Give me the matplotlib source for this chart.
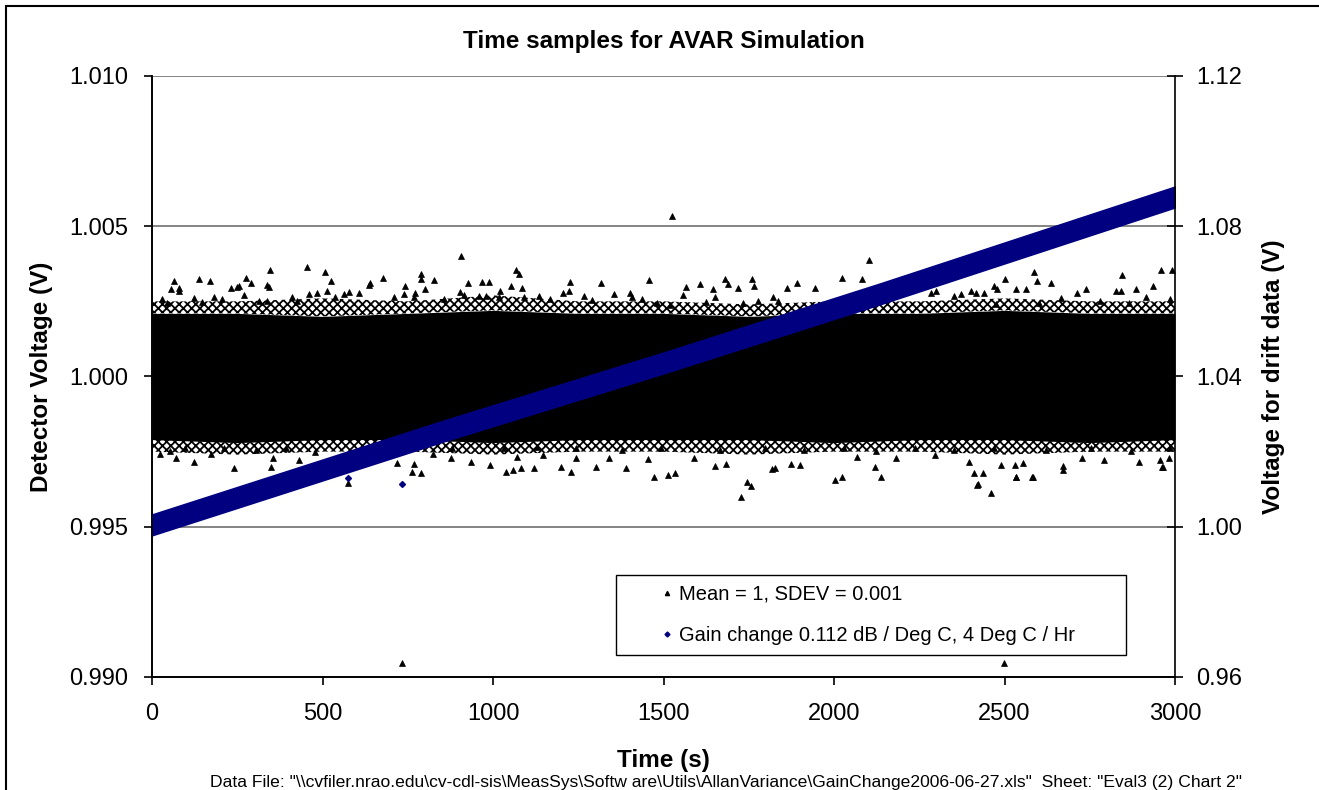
import numpy as np
import matplotlib.pyplot as plt
from matplotlib.lines import Line2D
from matplotlib.patches import Rectangle

plt.rcParams['font.family'] = ['Liberation Sans', 'DejaVu Sans']
plt.rcParams['hatch.linewidth'] = 1.3

# Huellkurven der dichten Rauschwolke (linke Achse, V)
t_env = [0, 250, 500, 750, 1000, 1250, 1500, 1750, 2000, 2250, 2500, 2750, 3000]
core_hi = [1.0021, 1.0021, 1.0020, 1.0021, 1.0022, 1.0021, 1.0021, 1.0020, 1.0021, 1.0021, 1.0022, 1.0021, 1.0021]
core_lo = [0.9979, 0.9978, 0.9979, 0.9979, 0.9978, 0.9979, 0.9979, 0.9979, 0.9978, 0.9979, 0.9979, 0.9978, 0.9979]
dense_hi = [1.0025, 1.0025, 1.0026, 1.0025, 1.0027, 1.0025, 1.0025, 1.0024, 1.0025, 1.0025, 1.0026, 1.0025, 1.0025]
dense_lo = [0.9975, 0.9974, 0.9975, 0.9975, 0.9974, 0.9975, 0.9975, 0.9974, 0.9975, 0.9975, 0.9974, 0.9975, 0.9975]

# einzeln erkennbare Punkte oberhalb des dichten Bands
top_t = [907, 347, 455, 507, 137, 169, 65, 277, 291, 337, 342, 231, 250, 256, 55, 80, 80, 526, 677, 637,
         640, 790, 790, 828, 743, 800, 772, 1066, 1075, 1053, 927, 968, 987, 1086, 1227, 1317, 1457, 1222, 1205, 1266,
         1354, 1402, 1408, 1021, 1017, 958, 978, 902, 916, 606, 562, 577, 513, 459, 484, 29, 44, 122, 181, 205,
         147, 269, 313, 336, 411, 425, 537, 709, 740, 767, 855, 1092, 1134, 1168, 1290, 1437, 1481,
         2102, 1567, 1608, 1679, 1689, 1760, 1764, 1718, 1645, 1650, 1557, 1862, 1892, 1943, 2023, 2083, 2587, 2595, 2502, 2637,
         2846, 2960, 2991, 2935, 2885, 2828, 2843, 2738, 2714, 2665, 2562, 2535, 2469, 2479, 2439, 2417, 2403, 2373, 2300, 2283,
         2351, 2914, 2779, 2865, 2984, 2601, 2476, 1821, 1837, 1776, 1733, 1626, 1518]
top_v = [1.00401, 1.00354, 1.00364, 1.00349, 1.00323, 1.00317, 1.00317, 1.00328, 1.00310, 1.00304,
         1.00299, 1.00296, 1.00298, 1.00301, 1.00290, 1.00293, 1.00284, 1.00317, 1.00327, 1.00304,
         1.00312, 1.00342, 1.00323, 1.00322, 1.00301, 1.00290, 1.00279, 1.00354, 1.00342, 1.00300,
         1.00311, 1.00316, 1.00316, 1.00296, 1.00316, 1.00311, 1.00322, 1.00284, 1.00279, 1.00269,
         1.00274, 1.00279, 1.00266, 1.00284, 1.00264, 1.00269, 1.00269, 1.00282, 1.00271, 1.00279,
         1.00274, 1.00282, 1.00284, 1.00274, 1.00279, 1.00257, 1.00245, 1.00262, 1.00263, 1.00257,
         1.00249, 1.00270, 1.00252, 1.00252, 1.00263, 1.00252, 1.00263, 1.00263, 1.00274, 1.00264,
         1.00257, 1.00263, 1.00268, 1.00257, 1.00254, 1.00257, 1.00246,
         1.00388, 1.00299, 1.00307, 1.00323, 1.00307, 1.00323, 1.00300, 1.00296, 1.00291, 1.00263,
         1.00271, 1.00296, 1.00312, 1.00296, 1.00327, 1.00323, 1.00349, 1.00318, 1.00323, 1.00312,
         1.00338, 1.00354, 1.00354, 1.00301, 1.00291, 1.00284, 1.00284, 1.00291, 1.00279, 1.00262,
         1.00290, 1.00290, 1.00300, 1.00290, 1.00279, 1.00279, 1.00284, 1.00274, 1.00284, 1.00279,
         1.00269, 1.00265, 1.00252, 1.00246, 1.00257, 1.00246, 1.00242, 1.00263, 1.00252, 1.00252,
         1.00244, 1.00249, 1.00238]

# einzeln erkennbare Punkte unterhalb des dichten Bands
bot_t = [1726, 2459, 2420, 1745, 1756, 2003, 2022, 2139, 2120, 2411, 2436, 2535, 2583, 2673, 2966, 2981, 1473, 1512, 1534, 1389,
         1303, 1230, 1200, 1119, 1081, 1039, 1058, 991, 936, 790, 761, 769, 719, 574, 239, 350, 124, 71, 23, 1651,
         1684, 1827, 1818, 1875, 1900, 2531, 2491, 2554, 2397, 2893, 2956, 876, 1244, 1339, 1454, 1588, 2066, 2181, 2296, 2726,
         2793, 1148, 1071, 823, 354, 430, 172, 54, 96, 210, 306, 392, 478, 1244, 1378, 1492, 1665, 1798, 1913, 2028,
         2124, 2238, 2353, 2468, 2621, 2755, 2870, 2985, 880, 1033, 1129, 2422, 2534, 2581, 2672, 2962]
bot_v = [0.99598, 0.99612, 0.99639, 0.99650, 0.99634, 0.99656, 0.99665, 0.99665, 0.99699, 0.99678,
         0.99678, 0.99667, 0.99667, 0.99703, 0.99699, 0.99730, 0.99667, 0.99672, 0.99679, 0.99694,
         0.99699, 0.99683, 0.99699, 0.99697, 0.99694, 0.99683, 0.99689, 0.99706, 0.99717, 0.99678,
         0.99683, 0.99708, 0.99711, 0.99644, 0.99694, 0.99699, 0.99717, 0.99728, 0.99741, 0.99703,
         0.99708, 0.99694, 0.99691, 0.99708, 0.99705, 0.99705, 0.99705, 0.99711, 0.99714, 0.99717,
         0.99722, 0.99728, 0.99728, 0.99730, 0.99725, 0.99730, 0.99733, 0.99730, 0.99739, 0.99730,
         0.99722, 0.99739, 0.99733, 0.99741, 0.99728, 0.99722, 0.99741, 0.99752, 0.99761, 0.99761,
         0.99755, 0.99761, 0.99750, 0.99761, 0.99755, 0.99761, 0.99755, 0.99761, 0.99755, 0.99761,
         0.99752, 0.99761, 0.99755, 0.99761, 0.99755, 0.99761, 0.99752, 0.99761, 0.99761, 0.99763,
         0.99765, 0.99642, 0.99665, 0.99665, 0.99689, 0.99699]

# Ausreisser
out_t = [1525, 733, 2499]
out_v = [1.00534, 0.99047, 0.99047]

# Driftdaten (rechte Achse, V)
drift_t = [0, 845, 1500, 2135, 3000]
drift_v = [1.0005, 1.0252, 1.0436, 1.0620, 1.0878]
drift_halfwidth = 0.0027
drift_out_t = [574, 733]
drift_out_v = [1.0130, 1.0115]

xticks = [0, 500, 1000, 1500, 2000, 2500, 3000]
yticks_left = [0.990, 0.995, 1.000, 1.005, 1.010]
yticks_right = [0.96, 1.00, 1.04, 1.08, 1.12]

fig = plt.figure(figsize=(13.19, 7.90), dpi=100)
ax = fig.add_axes([0.11524, 0.14304, 0.77559, 0.76076])
ax2 = ax.twinx()

# Rauschwolke
ax.fill_between(t_env, core_lo, core_hi, color='black', lw=0, zorder=2)
ax.fill_between(t_env, core_hi, dense_hi, facecolor='none', edgecolor='black', hatch='xxxx', lw=0, zorder=2)
ax.fill_between(t_env, dense_lo, core_lo, facecolor='none', edgecolor='black', hatch='xxxx', lw=0, zorder=2)
pts, = ax.plot(top_t + bot_t + out_t, top_v + bot_v + out_v, ls='', marker='^', ms=4,
               color='black', mew=0.5, zorder=3)

# Drift
drift_v = np.array(drift_v)
ax2.fill_between(drift_t, drift_v - drift_halfwidth, drift_v + drift_halfwidth, color='#000080', lw=1.5, zorder=2)
ax2.plot(drift_out_t, drift_out_v, ls='', marker='D', ms=3, color='#000080', zorder=3)

ax.set_xlim(0, 3000)
ax.set_ylim(0.990, 1.010)
ax2.set_ylim(0.96, 1.12)
ax.set_xticks(xticks)
ax.set_yticks(yticks_left)
ax.set_yticklabels([f'{v:.3f}' for v in yticks_left])
ax2.set_yticks(yticks_right)
ax2.set_yticklabels([f'{v:.2f}' for v in yticks_right])

ax.set_axisbelow(True)
ax.grid(axis='y', color='#707070', lw=1.2)
ax.spines['top'].set_visible(False)
ax2.spines['top'].set_visible(False)
ax.spines['right'].set_visible(False)
for a in (ax, ax2):
    for s in ['left', 'right', 'bottom']:
        a.spines[s].set_color('black')
        a.spines[s].set_linewidth(1.2)

ax.tick_params(axis='y', direction='out', length=6, width=1.2, labelsize=17, pad=11)
ax.tick_params(axis='x', direction='out', length=6, width=1.2, labelsize=17, pad=13)
ax2.tick_params(axis='y', direction='inout', length=12, width=1.2, labelsize=17, pad=9)

ax.text(0.5, 1.057, 'Time samples for AVAR Simulation', transform=ax.transAxes,
        ha='center', va='center', fontsize=17.5, fontweight='bold')
ax.set_xlabel('Time (s)', fontsize=17.5, fontweight='bold')
ax.xaxis.set_label_coords(0.5, -0.119)
ax.set_ylabel('Detector Voltage (V)', fontsize=17.5, fontweight='bold')
ax.yaxis.set_label_coords(-0.097, 0.5)
ax2.set_ylabel('Voltage for drift data (V)', fontsize=17.5, fontweight='bold')
ax2.yaxis.set_label_coords(1.085, 0.5)

h1 = Line2D([], [], ls='', marker='^', ms=3, color='black')
h2 = Line2D([], [], ls='', marker='D', ms=2.5, color='#000080')
leg = ax2.legend([h1, h2], ['Mean = 1, SDEV = 0.001', 'Gain change 0.112 dB / Deg C, 4 Deg C / Hr'],
                 loc='lower left', bbox_to_anchor=(0.4536, 0.0366, 0.4985, 0.1364), mode='expand',
                 borderaxespad=0, fontsize=14.5, fancybox=False, edgecolor='black', framealpha=1,
                 handlelength=4.1, handletextpad=-1.45, borderpad=0.5, labelspacing=1.1)
leg.get_frame().set_linewidth(1.0)

fig.text(210 / 1319, 2.5 / 790,
         r'Data File: "\\cvfiler.nrao.edu\cv-cdl-sis\MeasSys\Softw are\Utils\AllanVariance\GainChange2006-06-27.xls"  Sheet: "Eval3 (2) Chart 2"',
         ha='left', va='baseline', fontsize=12.6)

fig.patches.append(Rectangle((6 / 1319, -0.05), 1.1, 1.05 - 6 / 790, transform=fig.transFigure,
                             fill=False, ec='black', lw=1.5))

fig.savefig('out.png', dpi=100)
